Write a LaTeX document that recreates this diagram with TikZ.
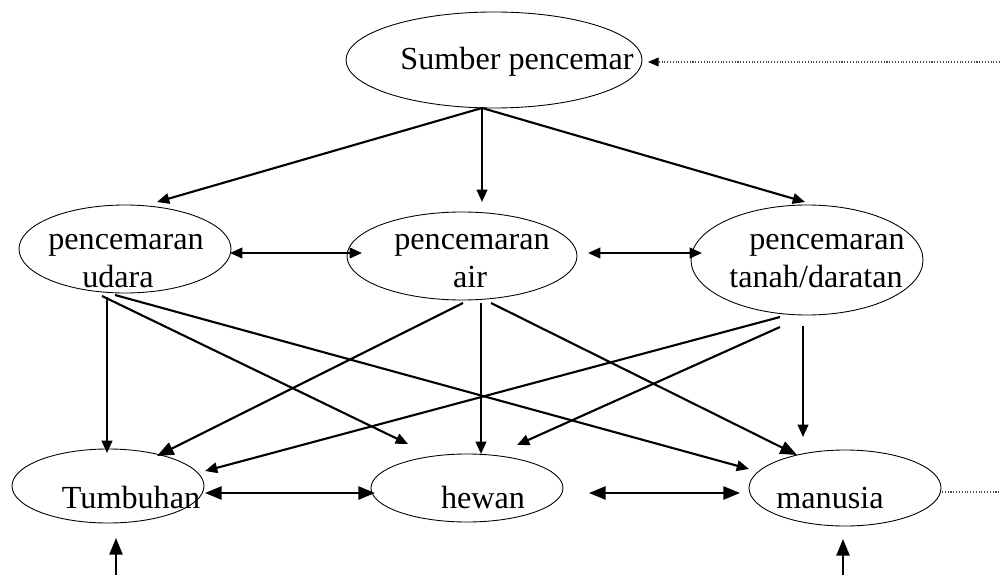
\documentclass[tikz,border=0pt]{standalone}
\usepackage{fontspec}
\setmainfont{Liberation Serif}
\usetikzlibrary{arrows.meta,shapes.geometric}
\def\pxu{0.569pt}
\begin{document}
\begin{tikzpicture}[x=0.569pt,y=-0.569pt,
  oval/.style={draw, line width=0.5pt, ellipse, inner sep=0pt, outer sep=0pt},
  lbl/.style={font=\fontsize{18.3}{21}\selectfont, anchor=base, inner sep=0pt},
  conn/.style={line width=1.2pt},
  sa/.style={conn, -{Triangle[length=7pt,width=6pt]}},
  ba/.style={conn, -{Triangle[length=9.5pt,width=7.5pt]}},
  sboth/.style={conn, {Triangle[length=7pt,width=6pt]}-{Triangle[length=7pt,width=6pt]}},
  bboth/.style={conn, {Triangle[length=9.5pt,width=7.5pt]}-{Triangle[length=9.5pt,width=7.5pt]}},
  dotline/.style={densely dotted, line width=0.6pt, black!70},
]
\useasboundingbox (0,0) rectangle (1000,575);

% ellipses
\node[oval, minimum width=296*\pxu, minimum height=96*\pxu] (src) at (494,60) {};
\node[oval, minimum width=212*\pxu, minimum height=88*\pxu] (udara) at (125,249) {};
\node[oval, minimum width=230*\pxu, minimum height=88*\pxu] (air) at (462,256) {};
\node[oval, minimum width=232*\pxu, minimum height=110*\pxu] (tanah) at (807,260) {};
\node[oval, minimum width=192*\pxu, minimum height=74*\pxu] (tumb) at (108,486) {};
\node[oval, minimum width=192*\pxu, minimum height=68*\pxu] (hewan) at (467,488) {};
\node[oval, minimum width=192*\pxu, minimum height=76*\pxu] (manusia) at (845,488) {};

% labels
\node[lbl] (tsrc) at (517,70) {Sumber pencemar};
\node[lbl] (tudaraA) at (126,250) {pencemaran};
\node[lbl] (tudaraB) at (118,287) {udara};
\node[lbl] (tairA) at (472,250) {pencemaran};
\node[lbl] (tairB) at (470,287) {air};
\node[lbl] (ttanahA) at (827,250) {pencemaran};
\node[lbl] (ttanahB) at (816,287) {tanah/daratan};
\node[lbl] (ttumb) at (131,508) {Tumbuhan};
\node[lbl] (thewan) at (483,508) {hewan};
\node[lbl] (tmanusia) at (830,508) {manusia};

% connector end points
\coordinate (s0) at (482,108);
\coordinate (sU) at (157,202);
\coordinate (sA) at (482,202);
\coordinate (sT) at (805,202);
\coordinate (dR) at (1000,62);
\coordinate (dL) at (648,62);
\coordinate (uaL) at (230,253);
\coordinate (uaR) at (362,253);
\coordinate (atL) at (588,253);
\coordinate (atR) at (702,253);
\coordinate (u1) at (107,297);
\coordinate (u1e) at (107,453);
\coordinate (u2) at (102,296);
\coordinate (u2e) at (408,444);
\coordinate (u3) at (115,295);
\coordinate (u3e) at (749,469);
\coordinate (a1) at (463,303);
\coordinate (a1e) at (157,456);
\coordinate (a2) at (481,303);
\coordinate (a2e) at (481,454);
\coordinate (a3) at (491,303);
\coordinate (a3e) at (797,455);
\coordinate (t1) at (780,317);
\coordinate (t1e) at (205,471);
\coordinate (t2) at (780,327);
\coordinate (t2e) at (517,445);
\coordinate (t3) at (803,326);
\coordinate (t3e) at (803,437);
\coordinate (thL) at (205,493);
\coordinate (thR) at (375,493);
\coordinate (hmL) at (589,493);
\coordinate (hmR) at (740,493);
\coordinate (mR) at (942,492);
\coordinate (mE) at (1000,492);
\coordinate (up1b) at (116,575);
\coordinate (up1t) at (116,538);
\coordinate (up2b) at (843,575);
\coordinate (up2t) at (843,539);

% connectors
\draw[sa] (s0) -- (sU);
\draw[sa] (s0) -- (sA);
\draw[sa] (s0) -- (sT);
\draw[dotline, -{Triangle[length=6pt,width=5pt,color=black]}] (dR) -- (dL);
\draw[sboth] (uaL) -- (uaR);
\draw[sboth] (atL) -- (atR);
\draw[sa] (u1) -- (u1e);
\draw[sa] (u2) -- (u2e);
\draw[sa] (u3) -- (u3e);
\draw[ba] (a1) -- (a1e);
\draw[sa] (a2) -- (a2e);
\draw[ba] (a3) -- (a3e);
\draw[sa] (t1) -- (t1e);
\draw[sa] (t2) -- (t2e);
\draw[sa] (t3) -- (t3e);
\draw[bboth] (thL) -- (thR);
\draw[bboth] (hmL) -- (hmR);
\draw[dotline] (mR) -- (mE);
\draw[ba] (up1b) -- (up1t);
\draw[ba] (up2b) -- (up2t);
\end{tikzpicture}
\end{document}
